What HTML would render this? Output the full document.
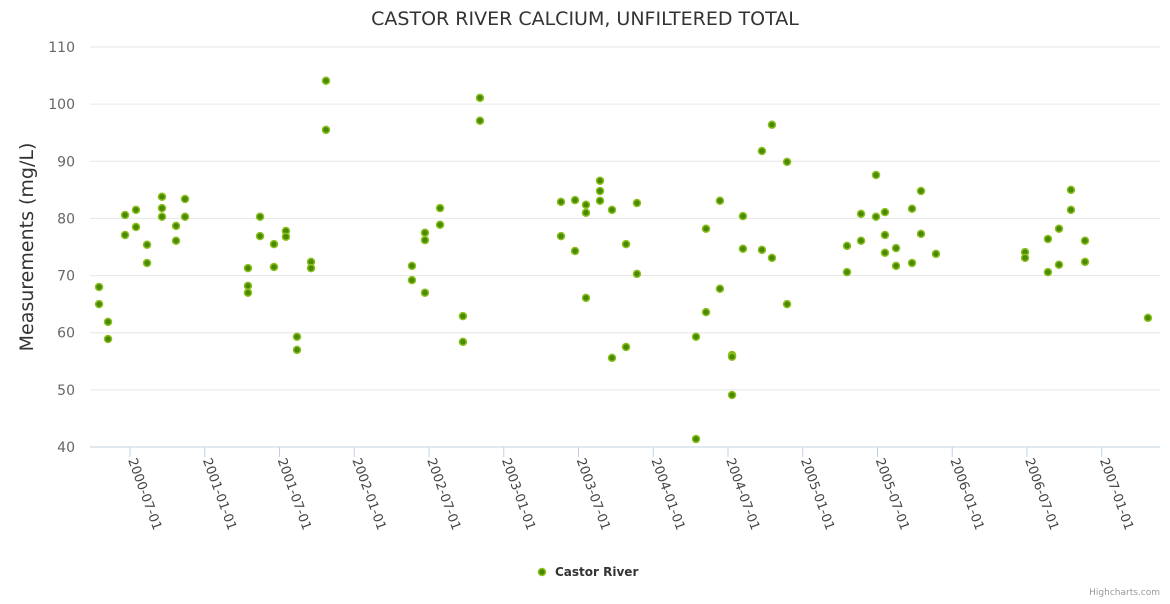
<!DOCTYPE html>
<html><head><meta charset="utf-8"><style>
body{margin:0;background:#fff;font-family:"DejaVu Sans",sans-serif}
svg text{font-family:"DejaVu Sans",sans-serif}
</style></head><body>
<svg id="chart" width="1170" height="600" xmlns="http://www.w3.org/2000/svg">
<text x="585" y="25" text-anchor="middle" font-size="19" fill="#333">CASTOR RIVER CALCIUM, UNFILTERED TOTAL</text>
<text transform="translate(33,247) rotate(-90)" text-anchor="middle" font-size="19" fill="#333">Measurements (mg/L)</text>
<g id="grid"></g><g id="xaxis"></g><g id="pts"></g>
<g><circle cx="542" cy="572" r="3.5" fill="#4a8a00" stroke="#8cc020" stroke-width="1.5"/><text x="555" y="576" font-size="12" font-weight="bold" fill="#333">Castor River</text></g>
<text x="1160" y="595" text-anchor="end" font-size="9" fill="#999">Highcharts.com</text>
</svg>
<script>
const yTicks=[40,50,60,70,80,90,100,110];
const xTickVals=[2000.5,2001,2001.5,2002,2002.5,2003,2003.5,2004,2004.5,2005,2005.5,2006,2006.5,2007];
const xTickLabels=["2000-07-01","2001-01-01","2001-07-01","2002-01-01","2002-07-01","2003-01-01","2003-07-01","2004-01-01","2004-07-01","2005-01-01","2005-07-01","2006-01-01","2006-07-01","2007-01-01"];
const dates=[2000.293,2000.293,2000.353,2000.353,2000.467,2000.467,2000.540,2000.540,2000.614,2000.614,2000.714,2000.714,2000.714,2000.808,2000.808,2000.868,2000.868,
2001.289,2001.289,2001.289,2001.370,2001.370,2001.463,2001.463,2001.543,2001.543,2001.617,2001.617,2001.711,2001.711,2001.811,2001.811,
2002.386,2002.386,2002.473,2002.473,2002.473,2002.574,2002.574,2002.727,2002.727,2002.841,2002.841,
2003.383,2003.383,2003.477,2003.477,2003.550,2003.550,2003.550,2003.644,2003.644,2003.644,2003.724,2003.724,2003.818,2003.818,2003.891,2003.891,
2004.286,2004.286,2004.353,2004.353,2004.446,2004.446,2004.527,2004.527,2004.527,2004.600,2004.600,2004.727,2004.727,2004.794,2004.794,2004.895,2004.895,
2005.296,2005.296,2005.390,2005.390,2005.490,2005.490,2005.550,2005.550,2005.550,2005.624,2005.624,2005.731,2005.731,2005.791,2005.791,2005.891,
2006.487,2006.487,2006.640,2006.640,2006.714,2006.714,2006.794,2006.794,2006.888,2006.888,2007.309];
const values=[68.0,65.0,61.9,58.9,80.6,77.1,81.5,78.5,75.4,72.2,83.8,81.8,80.3,78.7,76.1,83.4,80.3,
71.3,68.2,67.0,80.3,76.9,75.5,71.5,77.8,76.8,59.3,57.0,72.4,71.3,104.1,95.5,
71.7,69.2,77.5,76.2,67.0,81.8,78.9,62.9,58.4,101.1,97.1,
82.9,76.9,83.2,74.3,82.4,81.0,66.1,86.6,84.8,83.1,81.5,55.6,75.5,57.5,82.7,70.3,
59.3,41.4,78.2,63.6,83.1,67.7,56.1,55.8,49.1,80.4,74.7,91.8,74.5,96.4,73.1,89.9,65.0,
75.2,70.6,80.8,76.1,87.6,80.3,81.1,77.1,74.0,74.8,71.7,81.7,72.2,84.8,77.3,73.8,
74.1,73.1,76.4,70.6,78.2,71.9,85.0,81.5,76.1,72.4,62.6];
const NS="http://www.w3.org/2000/svg";
const X=t=>130+(t-2000.5)*149.5;
const Y=v=>447-(v-40)*400/70;
function mk(tag,attrs,parent){const e=document.createElementNS(NS,tag);for(const k in attrs)e.setAttribute(k,attrs[k]);parent.appendChild(e);return e;}
const grid=document.getElementById('grid');
yTicks.forEach(v=>{
 const l=mk('line',{x1:90,x2:1160,y1:Y(v),y2:Y(v),stroke:v===40?'#c0d0e0':'#e6e6e6'},grid);
 
 
 const t=mk('text',{x:75,y:Y(v)+5,'text-anchor':'end','font-size':14,fill:'#666'},grid);
 t.textContent=v;
 
 
});
const xa=document.getElementById('xaxis');
xTickVals.forEach((v,i)=>{
 const x=X(v);
 const tk=mk('line',{x1:x,x2:x,y1:447,y2:457,stroke:'#c0d0e0'},xa);
 
 
 const t=mk('text',{transform:`translate(${x-2},460) rotate(70)`,'font-size':13,fill:'#444'},xa);
 t.textContent=xTickLabels[i];
 
 
});
const pts=document.getElementById('pts');
dates.forEach((d,i)=>{
 const c=mk('circle',{cx:X(d),cy:Y(values[i]),r:3.5,fill:'#4a8a00',stroke:'#8cc020','stroke-width':1.5},pts);
 
 
});
</script>
</body></html>
